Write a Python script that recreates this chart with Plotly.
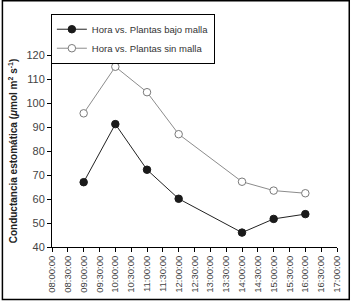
import plotly.graph_objects as go

day = "2000-01-01 "
horas = ["09:00:00", "10:00:00", "11:00:00", "12:00:00", "14:00:00", "15:00:00", "16:00:00"]
bajo_malla = [67, 91.2, 72.2, 60.1, 46, 51.7, 53.7]
sin_malla = [95.7, 115.1, 104.5, 87, 67.2, 63.5, 62.4]
nombre_bajo = "Hora vs. Plantas bajo malla"
nombre_sin = "Hora vs. Plantas sin malla"
y_title = "<b>Conductancia estomática (<i>μ</i>mol m<sup>2</sup> s<sup>-1</sup>)</b>"

FONT = "Liberation Sans Narrow, Arial Narrow, Liberation Sans, Arial, sans-serif"
x = [day + h for h in horas]

fig = go.Figure()
fig.add_trace(go.Scatter(
    x=x, y=bajo_malla, name=nombre_bajo, mode="lines+markers",
    line=dict(color="#222222", width=1),
    marker=dict(symbol="circle", size=7.5, color="#1a1a1a", line=dict(color="#1a1a1a", width=1)),
))
fig.add_trace(go.Scatter(
    x=x, y=sin_malla, name=nombre_sin, mode="lines+markers",
    line=dict(color="#8c8c8c", width=1),
    marker=dict(symbol="circle", size=7.5, color="white", line=dict(color="#7a7a7a", width=1)),
))

fig.update_layout(
    width=351, height=303,
    margin=dict(l=52, r=14, t=55, b=56, autoexpand=False),
    paper_bgcolor="white", plot_bgcolor="white",
    font=dict(family=FONT, size=10, color="#333333"),
    showlegend=True,
    legend=dict(
        x=-0.004, y=1.215, xanchor="left", yanchor="top",
        bordercolor="black", borderwidth=1, bgcolor="white",
        font=dict(family=FONT, size=9.5, color="#333333"),
        tracegroupgap=0, itemwidth=30,
    ),
    shapes=[dict(type="rect", xref="paper", yref="paper",
                 x0=-0.174, x1=1.043, y0=-0.274, y1=1.282,
                 line=dict(color="black", width=1.5), layer="below")],
)
fig.update_xaxes(
    type="date", range=[day + "08:00:00", day + "17:00:00"],
    dtick=1800000, tick0=day + "08:00:00", tickformat="%H:%M:%S",
    tickangle=-90, ticks="outside", ticklen=4, tickcolor="black",
    showline=True, linecolor="black", linewidth=1, showgrid=False, zeroline=False,
    tickfont=dict(family=FONT, size=9.5, color="#444444"), automargin=False,
)
fig.update_yaxes(
    range=[40, 120], dtick=10, ticks="outside", ticklen=4, tickcolor="black",
    showline=True, linecolor="black", linewidth=1, showgrid=False, zeroline=False,
    tickfont=dict(family=FONT, size=11, color="#444444"), automargin=False,
    title=dict(text=y_title, font=dict(family=FONT, size=10, color="#222222"), standoff=6),
)
fig.write_html("out.html", config={"displayModeBar": False},
               post_script="document.body.style.margin='0';")
